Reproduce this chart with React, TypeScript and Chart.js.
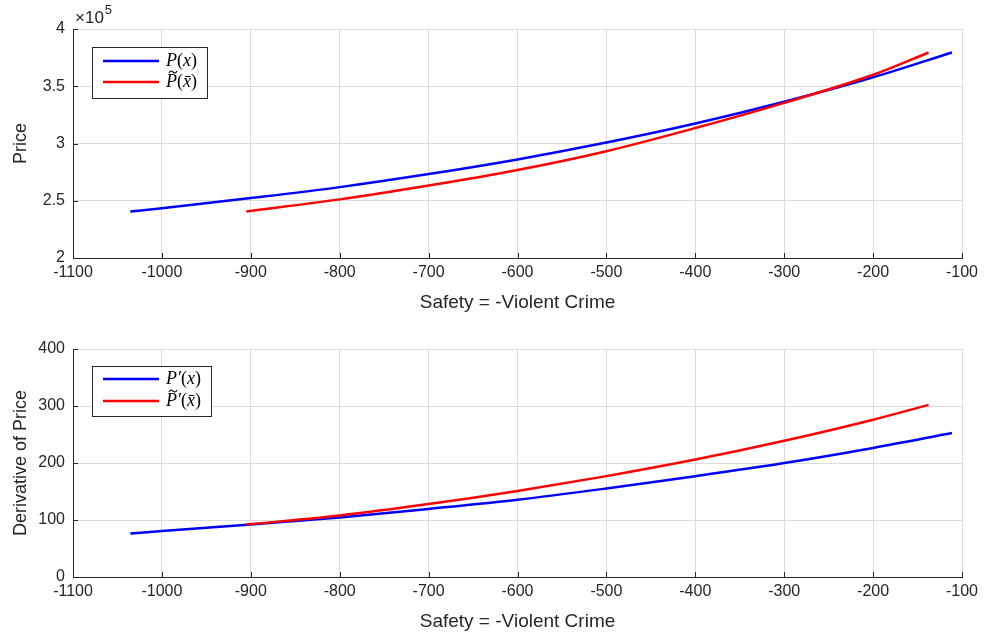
import React, { useEffect, useRef } from 'react';
import { Chart, registerables } from 'chart.js';

Chart.register(...registerables);

// ---------- data ----------
const xTitle = 'Safety = -Violent Crime';
const topYTitle = 'Price';
const botYTitle = 'Derivative of Price';

// P(x)
const pX = [-1035.5, -1000, -900, -800, -700, -600, -500, -400, -300, -200, -111.3];
const pY = [240700, 243400, 252300, 261900, 273300, 286100, 300800, 317400, 336400, 357800, 379500];
// P~(x~)
const ptX = [-905, -800, -700, -600, -500, -400, -300, -200, -137.6];
const ptY = [240700, 251200, 263300, 276900, 293300, 313500, 335500, 360000, 379500];
// P'(x)
const dX = [-1035.5, -1000, -900, -800, -700, -600, -500, -400, -300, -200, -111.3];
const dY = [76.5, 80.5, 92.3, 104.5, 119.5, 135.5, 155.3, 176.9, 200, 226.5, 252.7];
// P~'(x~)
const dtX = [-905, -800, -700, -600, -500, -400, -300, -200, -137.6];
const dtY = [92, 108, 128, 151, 177, 206, 239, 276, 302];

const xMin = -1100;
const xMax = -100;
const xStep = 100;

type Seg = { t: string; i: boolean; tilde?: boolean };
const legendTop: Seg[][] = [
  [{ t: 'P', i: true }, { t: '(', i: false }, { t: 'x', i: true }, { t: ')', i: false }],
  [{ t: 'P', i: true, tilde: true }, { t: '(', i: false }, { t: 'x\u0304', i: true }, { t: ')', i: false }],
];
const legendBot: Seg[][] = [
  [{ t: 'P\u2032', i: true }, { t: '(', i: false }, { t: 'x', i: true }, { t: ')', i: false }],
  [{ t: 'P\u2032', i: true, tilde: true }, { t: '(', i: false }, { t: 'x\u0304', i: true }, { t: ')', i: false }],
];

const AXIS = '#262626';
const GRID = '#dcdcdc';
const SANS = '"Liberation Sans", Arial, Helvetica, sans-serif';
const SERIF = '"Liberation Serif", "DejaVu Serif", serif';

const pts = (xs: number[], ys: number[]) => xs.map((x, k) => ({ x, y: ys[k] }));

const innerTicks = {
  id: 'innerTicks',
  afterDraw(chart: any) {
    const { ctx, chartArea: a } = chart;
    const xs = chart.scales.x;
    const ys = chart.scales.y;
    ctx.save();
    ctx.strokeStyle = AXIS;
    ctx.lineWidth = 1;
    ctx.beginPath();
    xs.ticks.forEach((t: any) => {
      const px = Math.round(xs.getPixelForValue(t.value)) + 0.5;
      ctx.moveTo(px, a.bottom);
      ctx.lineTo(px, a.bottom - 5);
    });
    ys.ticks.forEach((t: any) => {
      const py = Math.round(ys.getPixelForValue(t.value)) + 0.5;
      ctx.moveTo(a.left, py);
      ctx.lineTo(a.left + 5, py);
    });
    ctx.stroke();
    ctx.restore();
  },
};

const legendPlugin = {
  id: 'mlLegend',
  afterDraw(chart: any, _args: any, opts: any) {
    if (!opts || !opts.entries) return;
    const { ctx } = chart;
    const [bx, by, bw, bh] = opts.box;
    ctx.save();
    ctx.fillStyle = '#ffffff';
    ctx.fillRect(bx, by, bw, bh);
    ctx.strokeStyle = '#262626';
    ctx.lineWidth = 1;
    ctx.strokeRect(bx + 0.5, by + 0.5, bw, bh);
    opts.entries.forEach((segs: Seg[], k: number) => {
      const y = opts.rows[k];
      ctx.strokeStyle = opts.colors[k];
      ctx.lineWidth = 2.5;
      ctx.beginPath();
      ctx.moveTo(bx + 11, y);
      ctx.lineTo(bx + 67, y);
      ctx.stroke();
      ctx.fillStyle = '#000';
      ctx.textBaseline = 'middle';
      let x = bx + 74;
      segs.forEach((s) => {
        ctx.font = `${s.i ? 'italic ' : ''}18px ${SERIF}`;
        ctx.fillText(s.t, x, y);
        const w = ctx.measureText(s.t).width;
        if (s.tilde) {
          const cx = x + 7;
          const ty = y - 10;
          ctx.save();
          ctx.strokeStyle = '#000';
          ctx.lineWidth = 1.1;
          ctx.beginPath();
          ctx.moveTo(cx - 4, ty + 1);
          ctx.bezierCurveTo(cx - 2.5, ty - 2, cx - 1, ty - 1, cx, ty);
          ctx.bezierCurveTo(cx + 1, ty + 1, cx + 2.5, ty + 2, cx + 4, ty - 1);
          ctx.stroke();
          ctx.restore();
        }
        x += w;
      });
    });
    ctx.restore();
  },
};

const expPlugin = {
  id: 'expLabel',
  afterDraw(chart: any, _args: any, opts: any) {
    if (!opts || !opts.show) return;
    const { ctx, chartArea: a } = chart;
    ctx.save();
    ctx.fillStyle = AXIS;
    ctx.textBaseline = 'alphabetic';
    ctx.font = `17px ${SANS}`;
    ctx.fillText('\u00d710', a.left + 2, 23);
    const w = ctx.measureText('\u00d710').width;
    ctx.font = `13px ${SANS}`;
    ctx.fillText('5', a.left + 2 + w + 1, 14);
    ctx.restore();
  },
};

function makeConfig(opts: {
  datasets: any[];
  yMin: number;
  yMax: number;
  yStep: number;
  yTitle: string;
  yFmt: (v: number) => string;
  xHeight: number;
  titlePadBottom: number;
  legend: any;
  exp: boolean;
}): any {
  return {
    type: 'line',
    data: { datasets: opts.datasets },
    plugins: [innerTicks, legendPlugin, expPlugin],
    options: {
      responsive: false,
      animation: false,
      layout: { padding: { top: 29, right: 22, left: 0, bottom: 0 } },
      plugins: {
        legend: { display: false },
        tooltip: { enabled: false },
        mlLegend: opts.legend,
        expLabel: { show: opts.exp },
      },
      elements: { point: { radius: 0 } },
      scales: {
        x: {
          type: 'linear',
          min: xMin,
          max: xMax,
          afterFit: (s: any) => {
            s.height = opts.xHeight;
          },
          ticks: {
            stepSize: xStep,
            padding: 5,
            color: AXIS,
            font: { family: SANS, size: 16 },
            maxRotation: 0,
            autoSkip: false,
            callback: (v: number) => String(v),
          },
          grid: { color: GRID, lineWidth: 1, drawTicks: false },
          border: { display: true, color: AXIS, width: 1 },
          title: {
            display: true,
            text: xTitle,
            color: AXIS,
            font: { family: SANS, size: 19 },
            padding: { top: 4, bottom: opts.titlePadBottom },
          },
        },
        y: {
          type: 'linear',
          min: opts.yMin,
          max: opts.yMax,
          afterFit: (s: any) => {
            s.width = 73;
          },
          ticks: {
            stepSize: opts.yStep,
            padding: 8,
            color: AXIS,
            font: { family: SANS, size: 16 },
            callback: (v: number) => opts.yFmt(v),
          },
          grid: { color: GRID, lineWidth: 1, drawTicks: false },
          border: { display: true, color: AXIS, width: 1 },
          title: {
            display: true,
            text: opts.yTitle,
            color: AXIS,
            font: { family: SANS, size: 18 },
            padding: { top: 10, bottom: 0 },
          },
        },
      },
    },
  };
}

const line = (label: string, data: any[], color: string, order: number) => ({
  label,
  data,
  borderColor: color,
  backgroundColor: color,
  borderWidth: 2.5,
  pointRadius: 0,
  fill: false,
  cubicInterpolationMode: 'monotone',
  order,
});

export default function App() {
  const topRef = useRef<HTMLCanvasElement>(null);
  const botRef = useRef<HTMLCanvasElement>(null);

  useEffect(() => {
    const top = new Chart(
      topRef.current as HTMLCanvasElement,
      makeConfig({
        datasets: [
          line('P(x)', pts(pX, pY), '#0000ff', 1),
          line('P~(x~)', pts(ptX, ptY), '#ff0000', 0),
        ],
        yMin: 200000,
        yMax: 400000,
        yStep: 50000,
        yTitle: topYTitle,
        yFmt: (v) => String(Math.round((v / 100000) * 10) / 10),
        xHeight: 62,
        titlePadBottom: 6,
        legend: {
          entries: legendTop,
          colors: ['#0000ff', '#ff0000'],
          box: [92, 47, 115, 51],
          rows: [61, 82],
        },
        exp: true,
      })
    );
    const bot = new Chart(
      botRef.current as HTMLCanvasElement,
      makeConfig({
        datasets: [
          line("P'(x)", pts(dX, dY), '#0000ff', 1),
          line("P~'(x~)", pts(dtX, dtY), '#ff0000', 0),
        ],
        yMin: 0,
        yMax: 400,
        yStep: 100,
        yTitle: botYTitle,
        yFmt: (v) => String(v),
        xHeight: 64,
        titlePadBottom: 8,
        legend: {
          entries: legendBot,
          colors: ['#0000ff', '#ff0000'],
          box: [92, 46, 119, 50],
          rows: [59, 81],
        },
        exp: false,
      })
    );
    return () => {
      top.destroy();
      bot.destroy();
    };
  }, []);

  return (
    <div style={{ position: 'absolute', left: 0, top: 0, width: 984, height: 641, background: '#fff' }}>
      <canvas ref={topRef} width={984} height={320} style={{ position: 'absolute', left: 0, top: 0, width: 984, height: 320 }} />
      <canvas ref={botRef} width={984} height={321} style={{ position: 'absolute', left: 0, top: 320, width: 984, height: 321 }} />
    </div>
  );
}
